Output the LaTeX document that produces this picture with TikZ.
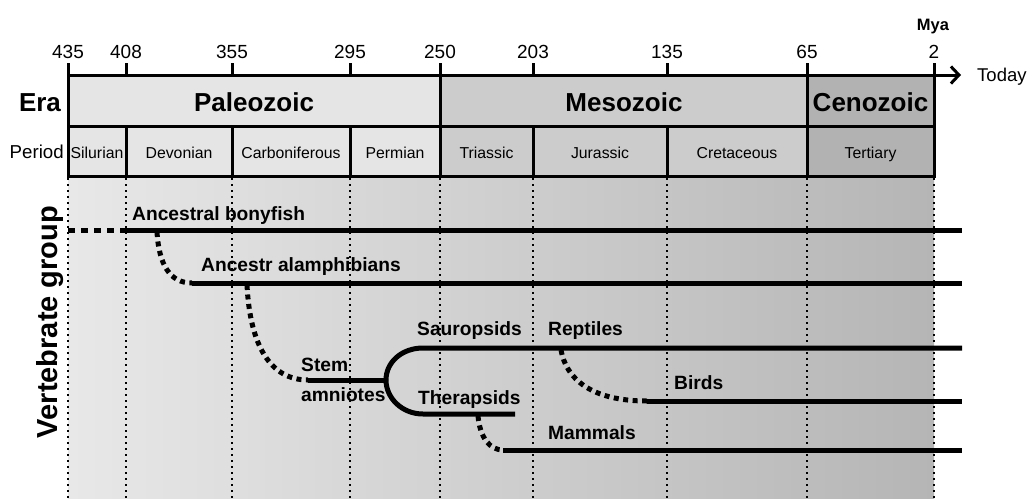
\documentclass[tikz,border=0pt]{standalone}
\usepackage{fontspec}
\setmainfont{Liberation Sans}
\usetikzlibrary{arrows.meta}

\begin{document}
\begin{tikzpicture}[
        x=1pt, y=-1pt,
        frame/.style = {line width=3pt},
        bound/.style = {line width=2.2pt, dash pattern=on 2.2pt off 3.8pt},
        lineage/.style = {line width=5pt},
        ghost/.style = {line width=5pt, dash pattern=on 5pt off 4.5pt},
        num/.style = {anchor=base, inner sep=0pt, font=\fontsize{19}{21}\selectfont},
        eraname/.style = {anchor=base, inner sep=0pt, font=\fontsize{26}{29}\selectfont\bfseries},
        pername/.style = {anchor=base, inner sep=0pt, font=\fontsize{15.8}{18}\selectfont},
        taxon/.style = {anchor=base west, inner sep=0pt, font=\fontsize{19.2}{22}\selectfont\bfseries}
    ]

        \useasboundingbox (0,0) rectangle (1035,498);

        % Background below the time scale
        \shade [left color=black!9, right color=black!29] (68,176) rectangle (934,498);

        % Era and period boxes
        \fill [black!10] (68,75) rectangle (440,176);
        \fill [black!20] (440,75) rectangle (807,176);
        \fill [black!30] (807,75) rectangle (934,176);
        \draw [frame] (68,75) rectangle (934,176);
        \draw [frame] (68,126) -- (934,126);
        \foreach \x in {68,440,807,934}
            \draw [frame] (\x,63) -- (\x,176);
        \foreach \x in {126,232,350,533,667} {
            \draw [frame] (\x,63) -- (\x,75);
            \draw [frame] (\x,126) -- (\x,176);
        }

        % Time axis
        \coordinate (tip) at (961,75);
        \draw [frame, -{Straight Barb[length=8pt, width=17pt]}] (934,75) -- (tip);
        \node (today) [anchor=base west, inner sep=0pt, font=\fontsize{18.5}{21}\selectfont] at (977,81.5) {Today};
        \node (mya) [anchor=base, inner sep=0pt, font=\fontsize{16.5}{19}\selectfont\bfseries] at (933,30) {Mya};
        \foreach \x/\t in {68/435,126/408,232/355,350/295,440/250,533/203,667/135,807/65,934/2}
            \node (n\t) [num] at (\x,58) {\t};

        % Dotted boundaries
        \foreach \x in {68,126,232,350,440,533,667,807,934}
            \draw [bound] (\x,178) -- (\x,498);

        % Row labels
        \node (era) [eraname] at (40,111.5) {Era};
        \node (period) [anchor=base east, inner sep=0pt, font=\fontsize{18.7}{21}\selectfont] at (64,158) {Period};
        \node (vgroup) [rotate=90, anchor=base, inner sep=0pt, font=\fontsize{29}{32}\selectfont\bfseries] at (57,322) {Vertebrate group};

        % Eras
        \node (paleo) [eraname] at (254,111) {Paleozoic};
        \node (meso) [eraname] at (624,111) {Mesozoic};
        \node (ceno) [eraname] at (870.5,111) {Cenozoic};

        % Periods
        \foreach \x/\name/\txt in {97/sil/Silurian, 179/dev/Devonian, 291/carb/Carboniferous, 395/perm/Permian,
                486.5/tri/Triassic, 600/jur/Jurassic, 737/cret/Cretaceous, 870.5/tert/Tertiary}
            \node (\name) [pername] at (\x,158) {\txt};

        % Lineage end points
        \coordinate (bony0) at (68,230);
        \coordinate (bony1) at (120,230);
        \coordinate (bonyE) at (962,230);
        \coordinate (amph1) at (192,283);
        \coordinate (amphE) at (962,283);
        \coordinate (stem1) at (308,380);
        \coordinate (fork) at (386,380);
        \coordinate (saur1) at (423,348);
        \coordinate (saurE) at (962,348);
        \coordinate (ther1) at (423,414);
        \coordinate (therE) at (515,414);
        \coordinate (bird1) at (647,401);
        \coordinate (birdE) at (962,401);
        \coordinate (mamm1) at (503,450);
        \coordinate (mammE) at (962,450);

        % Branch points
        \coordinate (br1) at (157,232);
        \coordinate (br2) at (247,285);
        \coordinate (br3) at (561,350);
        \coordinate (br4) at (478,416);

        % Lineages
        \draw [ghost, dash pattern=on 7pt off 6pt] (bony0) -- (bony1);
        \draw [lineage] (bony1) -- (bonyE);
        \draw [lineage] (amph1) -- (amphE);
        \draw [lineage] (stem1) -- (fork);
        \draw [lineage] (fork) .. controls (386,362) and (402,348) .. (saur1) -- (saurE);
        \draw [lineage] (fork) .. controls (386,398) and (402,414) .. (ther1) -- (therE);
        \draw [lineage] (bird1) -- (birdE);
        \draw [lineage] (mamm1) -- (mammE);

        % Uncertain ancestry
        \draw [ghost] (br1) .. controls (159,265) and (170,283) .. (amph1);
        \draw [ghost] (br2) .. controls (250,345) and (270,380) .. (stem1);
        \draw [ghost] (br3) .. controls (566,378) and (590,401) .. (bird1);
        \draw [ghost] (br4) .. controls (480,438) and (490,450) .. (mamm1);

        % Group labels
        \node (lbony) [taxon] at (132,220) {Ancestral bonyfish};
        \node (lamph) [taxon] at (201,271.7) {Ancestr alamphibians};
        \node (lsaur) [taxon] at (417,335) {Sauropsids};
        \node (lrept) [taxon] at (548,335) {Reptiles};
        \node (lstem) [taxon] at (301,371.7) {Stem};
        \node (lamni) [taxon] at (301,401) {amniotes};
        \node (lther) [taxon] at (418,404) {Therapsids};
        \node (lbird) [taxon] at (674,389) {Birds};
        \node (lmamm) [taxon] at (548,439) {Mammals};

    \end{tikzpicture}
\end{document}
